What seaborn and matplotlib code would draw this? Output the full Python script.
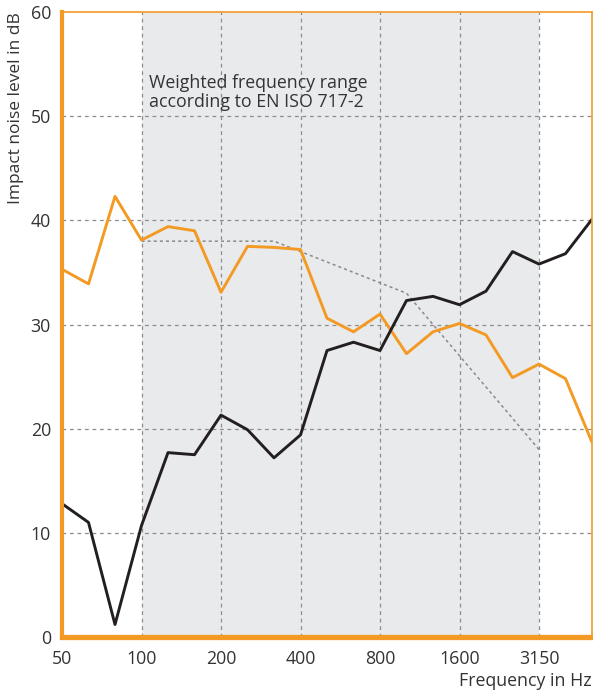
import numpy as np
import pandas as pd
import seaborn as sns
import matplotlib.pyplot as plt

# third-octave bands 50 Hz .. 5000 Hz
freqs = [50, 63, 80, 100, 125, 160, 200, 250, 315, 400, 500, 630,
         800, 1000, 1250, 1600, 2000, 2500, 3150, 4000, 5000]
black_db = [12.8, 11.0, 1.2, 10.7, 17.7, 17.5, 21.3, 19.9, 17.2, 19.4, 27.5,
            28.3, 27.5, 32.3, 32.7, 31.9, 33.2, 37.0, 35.8, 36.8, 40.1]
orange_db = [35.3, 33.9, 42.3, 38.1, 39.4, 39.0, 33.1, 37.5, 37.4, 37.2, 30.6,
             29.3, 31.0, 27.2, 29.3, 30.1, 29.0, 24.9, 26.2, 24.8, 18.7]
# shifted ISO 717-2 reference curve, 100 .. 3150 Hz
ref_freqs = [100, 125, 160, 200, 250, 315, 400, 500, 630, 800,
             1000, 1250, 1600, 2000, 2500, 3150]
ref_db = [38, 38, 38, 38, 38, 38, 37, 36, 35, 34, 33, 30, 27, 24, 21, 18]
tick_freqs = [50, 100, 200, 400, 800, 1600, 3150]
y_ticks = [0, 10, 20, 30, 40, 50, 60]

pos = {f: i for i, f in enumerate(freqs)}
df = pd.DataFrame({'x': [pos[f] for f in freqs], 'black': black_db, 'orange': orange_db})
ref = pd.DataFrame({'x': [pos[f] for f in ref_freqs], 'db': ref_db})

sns.set_style('white')
plt.rcParams['font.family'] = ['Open Sans', 'DejaVu Sans']

orange = '#f39a24'
grey_txt = '#333333'

fig = plt.figure(figsize=(5.93, 6.93), dpi=100)
ax = fig.add_axes([62 / 593, (693 - 637) / 693, (592 - 62) / 593, (637 - 12) / 693])

ax.axvspan(pos[100], pos[3150], color='#e9eaec', zorder=0, lw=0)

for v in y_ticks[1:-1]:
    ax.axhline(v, color='#8c8c8c', lw=0.9, ls=(0, (3, 3)), zorder=1)
for f in tick_freqs[1:]:
    ax.axvline(pos[f], color='#8c8c8c', lw=0.9, ls=(0, (3, 3)), zorder=1)

sns.lineplot(data=ref, x='x', y='db', color='#8a8a8a', lw=1.1,
             linestyle=(0, (2, 2)), ax=ax, zorder=2)
sns.lineplot(data=df, x='x', y='orange', color=orange, lw=2.1, ax=ax, zorder=3)
sns.lineplot(data=df, x='x', y='black', color='#231f20', lw=2.1, ax=ax, zorder=4)

ax.set_xlim(0, len(freqs) - 1)
ax.set_ylim(0, 60)
ax.set_xticks([pos[f] for f in tick_freqs])
ax.set_xticklabels([str(f) for f in tick_freqs])
ax.set_yticks(y_ticks)
ax.tick_params(length=0, labelsize=12.8, colors=grey_txt)
ax.tick_params(axis='x', pad=9)
ax.tick_params(axis='y', pad=8)

ax.spines['left'].set_linewidth(3.0)
ax.spines['bottom'].set_linewidth(3.8)
for side in ['top', 'right']:
    ax.spines[side].set_linewidth(1.2)
for sp in ax.spines.values():
    sp.set_color(orange)
    sp.set_zorder(5)

ax.set_xlabel('Frequency in Hz', loc='right', fontsize=12.8, color=grey_txt, labelpad=3)
ax.set_ylabel('Impact noise level in dB', loc='top', fontsize=12.5, color=grey_txt, labelpad=5)

ax.text(pos[100] + 0.3, 54.0, 'Weighted frequency range\naccording to EN ISO 717-2',
        fontsize=12.8, color=grey_txt, va='top', ha='left', linespacing=1.05)

fig.savefig('out.png', dpi=100)
